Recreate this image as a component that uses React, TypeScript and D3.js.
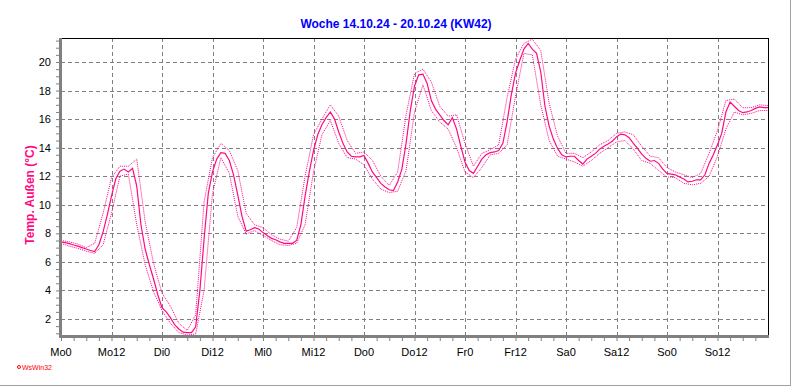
import { useEffect, useRef } from 'react'
import * as d3 from 'd3'

// hourly outside temperature, Mo 0h .. So 24h
const temp = [
  7.4, 7.35, 7.28, 7.18, 7.1, 7.0, 6.9, 6.8, 6.72, 7.2, 8.1, 9.3, 10.6, 11.8, 12.35, 12.5, 12.3, 12.55, 11.3, 8.6, 6.9, 5.8, 4.8, 3.7,
  2.8, 2.5, 2.1, 1.6, 1.3, 1.08, 1.04, 1.04, 1.45, 4.0, 7.6, 10.8, 12.3, 13.2, 13.65, 13.6, 13.1, 12.1, 10.7, 9.2, 8.15, 8.25, 8.4, 8.3,
  8.05, 7.85, 7.65, 7.55, 7.4, 7.3, 7.3, 7.3, 7.5, 8.6, 10.6, 12.3, 13.8, 14.9, 15.6, 16.1, 16.5, 16.0, 15.1, 14.3, 13.7, 13.4, 13.35, 13.35,
  13.45, 12.9, 12.3, 11.9, 11.5, 11.25, 11.05, 11.0, 11.6, 12.5, 14.3, 16.6, 18.3, 19.1, 19.15, 18.5, 17.3, 16.7, 16.3, 15.9, 15.6, 16.1, 15.3, 14.1,
  13.0, 12.4, 12.2, 12.7, 13.2, 13.5, 13.65, 13.7, 13.8, 14.3, 15.8, 17.7, 19.2, 20.1, 20.9, 21.3, 20.9, 20.6, 19.3, 16.9, 15.5, 14.6, 13.95, 13.5,
  13.35, 13.4, 13.4, 13.1, 12.85, 13.2, 13.4, 13.6, 13.9, 14.1, 14.25, 14.45, 14.75, 14.95, 14.9, 14.7, 14.3, 13.95, 13.55, 13.25, 13.05, 13.1, 12.9, 12.5,
  12.2, 12.15, 12.1, 11.95, 11.8, 11.6, 11.65, 11.75, 11.75, 12.1, 12.9, 13.5, 14.2, 15.0, 16.5, 17.2, 16.9, 16.6, 16.45, 16.5, 16.6, 16.75, 16.85, 16.8,
  16.8,
]

// 2-hourly max / min envelope (dotted lines)
const tempMax = [
  7.5, 7.4, 7.25, 7.0, 7.3, 9.4, 11.9, 12.7, 12.7, 13.2, 8.8, 5.9,
  3.8, 2.9, 1.7, 1.2, 2.3, 10.2, 13.3, 14.3, 13.8, 12.4, 9.4, 8.6,
  8.4, 7.9, 7.6, 7.45, 8.4, 12.0, 14.9, 16.0, 17.0, 16.2, 14.5, 13.6,
  13.7, 13.1, 12.0, 11.35, 12.3, 16.3, 19.2, 19.5, 18.6, 16.9, 16.2, 16.3,
  14.3, 12.7, 13.6, 13.85, 14.2, 17.5, 20.2, 21.3, 21.6, 20.8, 17.1, 14.8,
  13.6, 13.6, 13.3, 13.7, 14.2, 14.5, 15.0, 15.1, 14.9, 14.1, 13.4, 13.3,
  12.6, 12.3, 12.1, 11.9, 12.2, 13.6, 15.2, 17.3, 17.4, 16.8, 16.8, 17.0,
  16.95,
]
const tempMin = [
  7.3, 7.1, 6.95, 6.75, 6.6, 7.2, 9.4, 12.0, 12.15, 8.6, 5.8, 3.9,
  2.6, 1.7, 1.05, 0.88, 0.95, 4.0, 10.8, 13.3, 12.2, 9.2, 7.95, 8.2,
  7.85, 7.5, 7.2, 7.15, 7.3, 8.6, 12.3, 14.9, 15.9, 14.3, 13.3, 13.2,
  12.8, 11.8, 11.1, 10.85, 10.95, 12.4, 16.5, 18.4, 16.6, 15.8, 15.3, 14.0,
  12.3, 11.9, 12.6, 13.5, 13.6, 14.2, 17.6, 20.6, 20.5, 17.0, 14.5, 13.4,
  13.2, 13.0, 12.7, 13.1, 13.6, 14.0, 14.4, 14.5, 13.9, 13.1, 12.9, 12.4,
  11.95, 11.9, 11.5, 11.4, 11.5, 12.0, 13.4, 15.3, 16.5, 16.3, 16.4, 16.6,
  16.6,
]

const xTickLabels = ['Mo0', 'Mo12', 'Di0', 'Di12', 'Mi0', 'Mi12', 'Do0', 'Do12', 'Fr0', 'Fr12', 'Sa0', 'Sa12', 'So0', 'So12']
const yTicks = [2, 4, 6, 8, 10, 12, 14, 16, 18, 20]

const title = 'Woche 14.10.24 - 20.10.24 (KW42)'
const yLabel = 'Temp. Außen (°C)'

function App() {
  const ref = useRef(null)

  useEffect(() => {
    const width = 792,
      height = 387,
      left = 61,
      right = 768,
      top = 38,
      bottom = 336,
      pink = '#ff0a84',
      font = 'Liberation Sans, Arial, sans-serif'

    const x = d3.scaleLinear().domain([0, 168]).range([left, right])
    const y = d3.scaleLinear().domain([0.81, 21.68]).range([bottom, top])

    const svg = d3.select(ref.current)
    svg.selectAll('*').remove()
    svg.attr('width', width).attr('height', height)

    svg.append('rect').attr('width', width).attr('height', height).attr('fill', '#fff')

    // outer frame (right / bottom)
    svg.append('line').attr('x1', 790.5).attr('x2', 790.5).attr('y1', 0).attr('y2', 386).attr('stroke', '#a0a0a0')
    svg.append('line').attr('x1', 0).attr('x2', 791).attr('y1', 385.5).attr('y2', 385.5).attr('stroke', '#a0a0a0')

    // grid
    const grid = svg.append('g').attr('stroke', '#808080').attr('stroke-dasharray', '4,3')
    yTicks.forEach((t) => {
      grid.append('line').attr('x1', left).attr('x2', right).attr('y1', Math.round(y(t)) + 0.5).attr('y2', Math.round(y(t)) + 0.5)
    })
    xTickLabels.forEach((_, i) => {
      if (i === 0) return
      const px = Math.round(x(i * 12)) + 0.5
      grid.append('line').attr('x1', px).attr('x2', px).attr('y1', top).attr('y2', bottom)
    })

    // top / right border
    svg.append('line').attr('x1', left).attr('x2', right + 1).attr('y1', top + 0.5).attr('y2', top + 0.5).attr('stroke', '#000')
    svg.append('line').attr('x1', right + 0.5).attr('x2', right + 0.5).attr('y1', top).attr('y2', bottom).attr('stroke', '#000')

    // lines
    const line = d3
      .line<number>()
      .x((_, i) => x(i))
      .y((d) => y(d))
    const line2 = d3
      .line<number>()
      .x((_, i) => x(i * 2))
      .y((d) => y(d))

    const plot = svg.append('g')
    plot.append('path').attr('d', line2(tempMax)).attr('fill', 'none').attr('stroke', pink).attr('stroke-width', 1).attr('stroke-dasharray', '1,1')
    plot.append('path').attr('d', line2(tempMin)).attr('fill', 'none').attr('stroke', pink).attr('stroke-width', 1).attr('stroke-dasharray', '1,1')
    plot.append('path').attr('d', line(temp)).attr('fill', 'none').attr('stroke', pink).attr('stroke-width', 1.2)

    // axes
    svg.append('line').attr('x1', left - 0.5).attr('x2', left - 0.5).attr('y1', top).attr('y2', bottom + 1).attr('stroke', '#808080').attr('stroke-width', 3)
    svg.append('line').attr('x1', left - 2).attr('x2', right + 1).attr('y1', bottom + 0.5).attr('y2', bottom + 0.5).attr('stroke', '#808080').attr('stroke-width', 3)

    const yAxis = d3
      .axisLeft(y)
      .tickValues(d3.range(1, 21.6, 0.5))
      .tickSize(3)
      .tickFormat(() => '')
    const ya = svg.append('g').attr('transform', `translate(${left - 2},0)`).call(yAxis)
    ya.select('.domain').remove()
    ya.selectAll('line').attr('stroke', '#808080')

    const xAxis = d3
      .axisBottom(x)
      .tickValues(d3.range(0, 168, 3))
      .tickSize(3)
      .tickFormat(() => '')
    const xa = svg.append('g').attr('transform', `translate(0,${bottom + 2})`).call(xAxis)
    xa.select('.domain').remove()
    xa.selectAll('line').attr('stroke', '#808080')

    svg
      .append('g')
      .selectAll('text')
      .data(yTicks)
      .enter()
      .append('text')
      .attr('x', 51)
      .attr('y', (d) => y(d) + 4)
      .attr('text-anchor', 'end')
      .attr('font-family', font)
      .attr('font-size', 11)
      .text((d) => d)

    svg
      .append('g')
      .selectAll('text')
      .data(xTickLabels)
      .enter()
      .append('text')
      .attr('x', (_, i) => x(i * 12))
      .attr('y', 356)
      .attr('text-anchor', 'middle')
      .attr('font-family', font)
      .attr('font-size', 11)
      .text((d) => d)

    svg
      .append('text')
      .attr('x', 396)
      .attr('y', 28)
      .attr('text-anchor', 'middle')
      .attr('font-family', font)
      .attr('font-size', 12)
      .attr('font-weight', 'bold')
      .attr('fill', '#0000ff')
      .text(title)

    svg
      .append('text')
      .attr('transform', 'translate(34,195) rotate(-90)')
      .attr('text-anchor', 'middle')
      .attr('font-family', font)
      .attr('font-size', 12)
      .attr('font-weight', 'bold')
      .attr('fill', pink)
      .text(yLabel)

    svg.append('circle').attr('cx', 19).attr('cy', 367).attr('r', 1.5).attr('fill', 'none').attr('stroke', '#ff0000')
    svg
      .append('text')
      .attr('x', 22)
      .attr('y', 370)
      .attr('font-family', font)
      .attr('font-size', 7)
      .attr('fill', '#ff0000')
      .text('WsWin32')
  }, [])

  return <svg ref={ref} style={{ position: 'absolute', left: 0, top: 0 }} />
}

export default App
